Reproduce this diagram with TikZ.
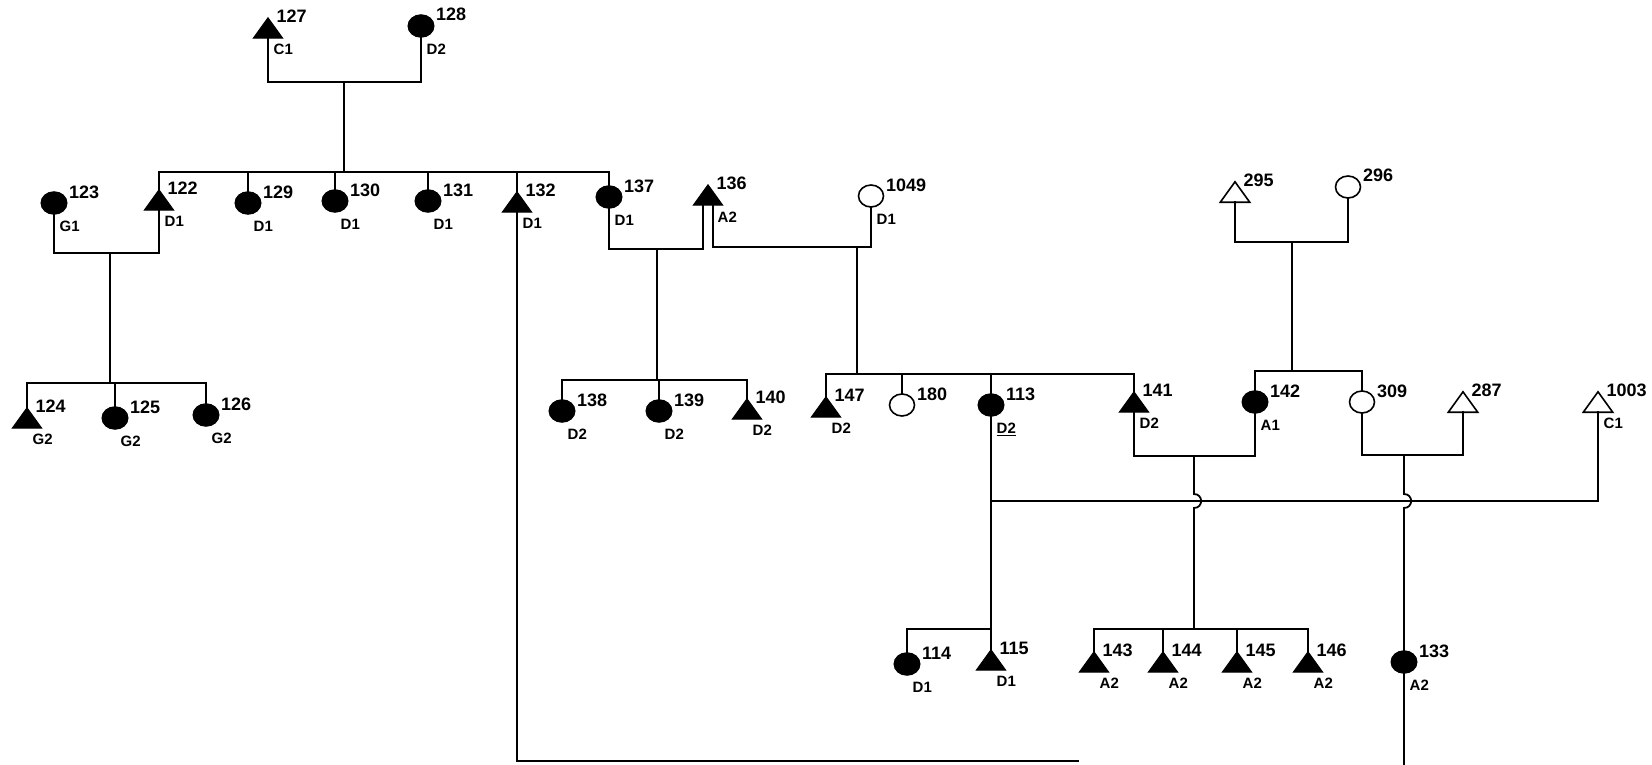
\documentclass[tikz,border=0pt]{standalone}
\usepackage{fontspec}
\setmainfont{Liberation Sans}
\usetikzlibrary{calc,shapes.geometric}
\tikzset{
  ln/.style={line width=1.8pt, line cap=rect},
  fc/.style={ellipse, minimum width=26pt, minimum height=22.5pt, inner sep=0pt, fill=black, draw=black, line width=1pt},
  oc/.style={ellipse, minimum width=25pt, minimum height=22pt, inner sep=0pt, fill=white, draw=black, line width=1.6pt},
  tribox/.style={rectangle, minimum width=29pt, minimum height=20pt, inner sep=0pt},
  ft/.style={fill=black, draw=black, line width=1pt, line join=miter},
  ot/.style={fill=white, draw=black, line width=1.6pt, line join=miter},
  num/.style={anchor=base west, inner sep=0pt, font=\bfseries\fontsize{18}{18}\selectfont},
  sublab/.style={anchor=north west, inner sep=0pt, font=\bfseries\fontsize{15}{15}\selectfont}
}
% circle person: name, x, y, style, number
\newcommand\pcir[5]{%
  \node[#4] (#1) at (#2,#3) {};
  \node[num] (#1n) at ($(#1.center)+(15,-5)$) {#5};}
% triangle person: name, x, apex y, style, number
\newcommand\ptri[5]{%
  \node[tribox] (#1) at (#2,#3+10) {};
  \path[#4] (#1.south west) -- (#1.north) -- (#1.south east) -- cycle;
  \node[num] (#1n) at ($(#1.north)+(8.5,5)$) {#5};}
\newcommand\psub[2]{\node[sublab] (#1s) at ($(#1.south)+(5.5,6)$) {#2};}
\newcommand\stems[2]{\foreach \c in {#2} {\draw[ln] (\c.north) -- (\c.north |- #1);}}
\begin{document}
\begin{tikzpicture}[x=1pt,y=-1pt]
\useasboundingbox (0,0) rectangle (1652,765);
% generation 1
\ptri{P127}{268}{18}{ft}{127} \psub{P127}{C1}
\pcir{P128}{421}{26}{fc}{128} \psub{P128}{D2}
% generation 2
\pcir{P123}{54}{203}{fc}{123} \psub{P123}{G1}
\ptri{P122}{159}{190}{ft}{122} \psub{P122}{D1}
\pcir{P129}{248}{203}{fc}{129} \psub{P129}{D1}
\pcir{P130}{335}{201}{fc}{130} \psub{P130}{D1}
\pcir{P131}{428}{201}{fc}{131} \psub{P131}{D1}
\ptri{P132}{517}{192}{ft}{132} \psub{P132}{D1}
\pcir{P137}{609}{197}{fc}{137} \psub{P137}{D1}
\ptri{P136}{708}{185}{ft}{136} \node[sublab] (P136s) at ($(P136.south)+(9.5,7)$) {A2};
\pcir{P1049}{871}{196}{oc}{1049} \psub{P1049}{D1}
\ptri{P295}{1235}{182}{ot}{295}
\pcir{P296}{1348}{187}{oc}{296}
% generation 3
\ptri{P124}{27}{408}{ft}{124} \psub{P124}{G2}
\pcir{P125}{115}{418}{fc}{125} \psub{P125}{G2}
\pcir{P126}{206}{415}{fc}{126} \psub{P126}{G2}
\pcir{P138}{562}{411}{fc}{138} \psub{P138}{D2}
\pcir{P139}{659}{411}{fc}{139} \psub{P139}{D2}
\ptri{P140}{747}{399}{ft}{140} \psub{P140}{D2}
\ptri{P147}{826}{397}{ft}{147} \psub{P147}{D2}
\pcir{P180}{902}{405}{oc}{180}
\pcir{P113}{991}{405}{fc}{113} \psub{P113}{\underline{D2}}
\ptri{P141}{1134}{392}{ft}{141} \psub{P141}{D2}
\pcir{P142}{1255}{402}{fc}{142} \psub{P142}{A1}
\pcir{P309}{1362}{402}{oc}{309}
\ptri{P287}{1463}{392}{ot}{287}
\ptri{P1003}{1598}{392}{ot}{1003} \psub{P1003}{C1}
% generation 4
\pcir{P114}{907}{664}{fc}{114} \psub{P114}{D1}
\ptri{P115}{991}{650}{ft}{115} \psub{P115}{D1}
\ptri{P143}{1094}{652}{ft}{143} \psub{P143}{A2}
\ptri{P144}{1163}{652}{ft}{144} \psub{P144}{A2}
\ptri{P145}{1237}{652}{ft}{145} \psub{P145}{A2}
\ptri{P146}{1308}{652}{ft}{146} \psub{P146}{A2}
\pcir{P133}{1404}{662}{fc}{133} \psub{P133}{A2}
% 127 x 128
\coordinate (c1) at (344,82);
\coordinate (s1) at (344,172);
\draw[ln] (P127.south) |- (c1) -| (P128.south);
\draw[ln] (c1) -- (s1);
\draw[ln] (P122.north |- s1) -- (P137.north |- s1);
\stems{s1}{P122,P129,P130,P131,P132,P137}
% 123 x 122
\coordinate (c2) at (110,253);
\coordinate (s2) at (110,383);
\draw[ln] (P123.south) |- (c2) -| (P122.south);
\draw[ln] (c2) -- (s2);
\draw[ln] (P124.north |- s2) -- (P126.north |- s2);
\stems{s2}{P124,P125,P126}
% 137 x 136
\coordinate (c3) at (657,249);
\coordinate (s3) at (657,380);
\draw[ln] (P137.south) |- (c3) -| ($(P136.south)+(-5,0)$);
\draw[ln] (c3) -- (s3);
\draw[ln] (P138.north |- s3) -- (P140.north |- s3);
\stems{s3}{P138,P139,P140}
% 136 x 1049
\coordinate (c4) at (857,247);
\coordinate (s4) at (857,374);
\draw[ln] ($(P136.south)+(5,0)$) |- (c4) -| (P1049.south);
\draw[ln] (c4) -- (s4);
\draw[ln] (P147.north |- s4) -- (P141.north |- s4);
\stems{s4}{P147,P180,P113,P141}
% 295 x 296
\coordinate (c5) at (1292,242);
\coordinate (s5) at (1292,371);
\draw[ln] (P295.south) |- (c5) -| (P296.south);
\draw[ln] (c5) -- (s5);
\draw[ln] (P142.north |- s5) -- (P309.north |- s5);
\stems{s5}{P142,P309}
% 141 x 142
\coordinate (c6) at (1194,456);
\coordinate (s6) at (1194,629);
\draw[ln] (P141.south) |- (c6) -| (P142.south);
\draw[ln] (c6) -- (1194,494) .. controls (1203.5,494) and (1203.5,508) .. (1194,508) -- (s6);
\draw[ln] (P143.north |- s6) -- (P146.north |- s6);
\stems{s6}{P143,P144,P145,P146}
% 309 x 287
\coordinate (c7) at (1404,455);
\coordinate (e1) at (1404,765);
\draw[ln] (P309.south) |- (c7) -| (P287.south);
\draw[ln] (c7) -- (1404,494) .. controls (1413.5,494) and (1413.5,508) .. (1404,508) -- (P133.north);
\draw[ln] (P133.south) -- (e1);
% 113 x 1003
\coordinate (c8) at (991,501);
\coordinate (s8) at (991,629);
\draw[ln] (c8) -| (P1003.south);
\draw[ln] (P113.south) -- (s8);
\draw[ln] (P114.north |- s8) -- (s8);
\stems{s8}{P114,P115}
% 132 long line
\coordinate (e2) at (1078,761);
\draw[ln] (P132.south) |- (e2);
\end{tikzpicture}
\end{document}
